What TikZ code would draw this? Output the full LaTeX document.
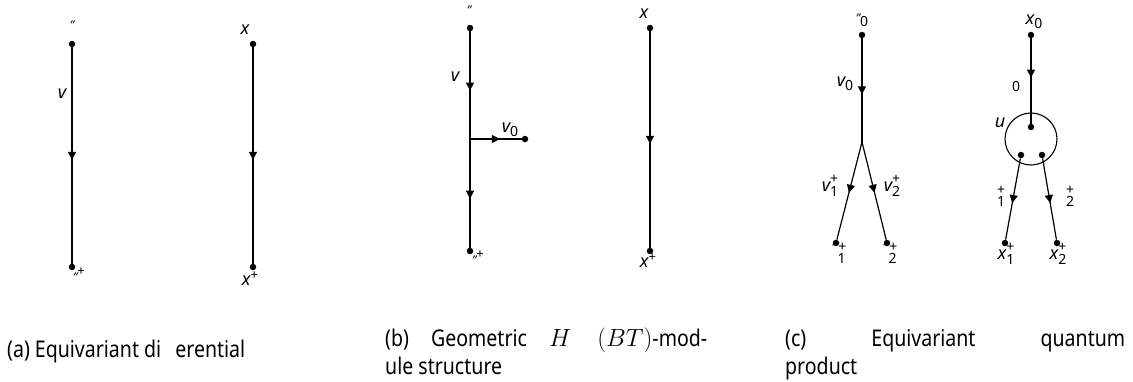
\documentclass[tikz,border=0pt]{standalone}
\usepackage{fontspec}
\setmainfont{Noto Sans}
\newfontfamily\capfont[FakeStretch=0.85]{Noto Sans}
\usetikzlibrary{arrows.meta,decorations.markings}
\newcommand{\lsb}[1]{\raisebox{-4pt}{\fontsize{14}{14}\selectfont\upshape #1}}
\newcommand{\lsp}[1]{\raisebox{6pt}{\fontsize{13}{13}\selectfont\upshape #1}}
\newcommand{\lss}[2]{\raisebox{-5pt}{\fontsize{14}{12}\selectfont\upshape\shortstack[l]{#1\\#2}}}
\newcommand{\qm}{{\fontsize{12}{12}\selectfont\itshape "}}
\begin{document}
\begin{tikzpicture}[x=1pt,y=-1pt,
  dot/.style={circle,fill=black,inner sep=0pt,minimum size=6.5pt},
  lab/.style={font=\fontsize{18}{20}\selectfont\itshape,inner sep=0pt},
  small/.style={font=\fontsize{14}{12}\selectfont,inner sep=0pt,align=center},
  captxt/.style={font=\capfont\fontsize{23}{26}\selectfont,inner sep=0pt,anchor=base west},
  conn/.style={line width=1.2pt,black},
  mid/.style={postaction={decorate},decoration={markings,mark=at position #1 with {\arrow{Triangle[length=8pt,width=8pt]}}}}]
\useasboundingbox (0,0) rectangle (1133,381);

% ---------- (a) ----------
\node[dot] (a1t) at (72,44) {};
\node[dot] (a1b) at (72,267) {};
\draw[conn,mid=0.52] (a1t) -- (a1b);
\node[lab] (a1tl) at (72,25) {\qm};
\node[lab] (a1v) at (62,94) {v};
\node[lab] (a1bl) at (79,275) {\qm\lsp{+}};

\node[dot] (a2t) at (253,44) {};
\node[dot] (a2b) at (253,267) {};
\draw[conn,mid=0.52] (a2t) -- (a2b);
\node[lab] (a2tl) at (245,30) {x};
\node[lab] (a2bl) at (250,279) {x\lsp{+}};

% ---------- (b) ----------
\node[dot] (b1t) at (470,28) {};
\node[dot] (b1b) at (470,251) {};
\coordinate (b1j) at (470,139);
\node[dot] (b1r) at (525,139) {};
\draw[conn,mid=0.55] (b1t) -- (b1j);
\draw[conn,mid=0.55] (b1j) -- (b1b);
\draw[conn,mid=0.58] (b1j) -- (b1r);
\node[lab] (b1tl) at (469,10) {\qm};
\node[lab] (b1v) at (455,77) {v};
\node[lab] (b1v0) at (510,130) {v\lsb{0}};
\node[lab] (b1bl) at (478,258) {\qm\lsp{+}};

\node[dot] (b2t) at (650,28) {};
\node[dot] (b2b) at (650,251) {};
\draw[conn,mid=0.52] (b2t) -- (b2b);
\node[lab] (b2tl) at (644,14) {x};
\node[lab] (b2bl) at (648,261) {x\lsp{+}};

% ---------- (c) left ----------
\node[dot] (c1t) at (862,35) {};
\coordinate (c1j) at (862,142);
\node[dot] (c1l) at (836,243) {};
\node[dot] (c1r) at (887,243) {};
\draw[conn,mid=0.54] (c1t) -- (c1j);
\draw[conn,mid=0.52] (c1j) -- (c1l);
\draw[conn,mid=0.52] (c1j) -- (c1r);
\node[lab] (c1tl) at (862,20) {\qm\lsb{0}};
\node[lab] (c1v0) at (845,84) {v\lsb{0}};
\node[lab] (c1v1) at (830,186) {v\lss{+}{1}};
\node[lab] (c1v2) at (892,186) {v\lss{+}{2}};
\node[small] (c1ll) at (839,253) {\qm\,+\\\hspace*{5pt}1};
\node[small] (c1rl) at (890,253) {\qm\,+\\\hspace*{5pt}2};

% ---------- (c) right ----------
\node[dot] (c2t) at (1031,35) {};
\node[draw,circle,line width=1.1pt,minimum size=52pt,inner sep=0pt] (circ) at (1031,139) {};
\node[dot] (c2c) at (1031,127) {};
\node[dot] (c2il) at (1021,155) {};
\node[dot] (c2ir) at (1042,155) {};
\node[dot] (c2l) at (1005,243) {};
\node[dot] (c2r) at (1057,243) {};
\draw[conn,mid=0.46] (c2t) -- (c2c);
\draw[conn,mid=0.55] (c2il) -- (c2l);
\draw[conn,mid=0.55] (c2ir) -- (c2r);
\node[lab] (c2tl) at (1034,22) {x\lsb{0}};
\node[small] (c2z) at (1016,86) {0};
\node[lab] (c2u) at (1000,123) {u};
\node[small] (c2p1) at (1001,196) {+\\1};
\node[small] (c2p2) at (1070,196) {+\\2};
\node[lab] (c2ll) at (1006,254) {x\lss{+}{1}};
\node[lab] (c2rl) at (1058,254) {x\lss{+}{2}};

% ---------- captions ----------
\node[captxt] (capa) at (7,357) {(a) Equivariant di\hspace{14pt}erential};
\node[captxt] (capb1) at (385,346) {\hbox to 322pt{(b)\hfill Geometric\hfill $H$\hfill\hspace{4pt}$(BT)$-mod-}};
\node[captxt] (capb2) at (385,374) {ule structure};
\node[captxt] (capc1) at (785,346) {\hbox to 340pt{(c)\hfill Equivariant\hfill quantum}};
\node[captxt] (capc2) at (785,374) {product};
\end{tikzpicture}
\end{document}
